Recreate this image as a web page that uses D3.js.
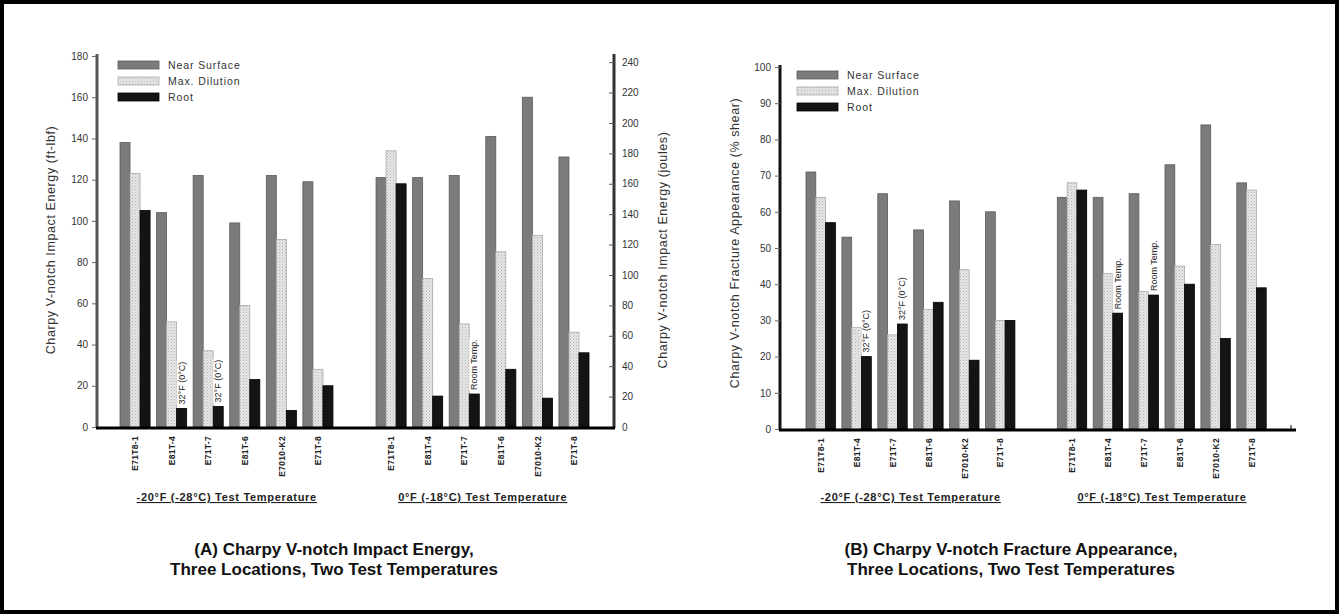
<!DOCTYPE html>
<html>
<head>
<meta charset="utf-8">
<script src="https://cdn.jsdelivr.net/npm/d3@7"></script>
<style>
  body { margin: 0; background: #fff; }
  svg { display: block; font-family: "Liberation Sans", Arial, sans-serif; }
  .tick text { fill: #333; }
</style>
</head>
<body>
<svg width="1339" height="614"></svg>
<script>
// categories
const electrodes = ["E71T8-1", "E81T-4", "E71T-7", "E81T-6", "E7010-K2", "E71T-8"];
const tempGroups = ["-20°F (-28°C) Test Temperature", "0°F (-18°C) Test Temperature"];
const seriesNames = ["Near Surface", "Max. Dilution", "Root"];

// (A) impact energy, ft-lbf  (first 6 = -20°F, last 6 = 0°F)
const energyNear = [138, 104, 122, 99, 122, 119, 121, 121, 122, 141, 160, 131];
const energyDilution = [123, 51, 37, 59, 91, 28, 134, 72, 50, 85, 93, 46];
const energyRoot = [105, 9, 10, 23, 8, 20, 118, 15, 16, 28, 14, 36];
const energyNotes = [
  { idx: 1, text: "32°F (0°C)" },
  { idx: 2, text: "32°F (0°C)" },
  { idx: 8, text: "Room Temp." }
];
const energyTicks = [0, 20, 40, 60, 80, 100, 120, 140, 160, 180];
const jouleTicks = [0, 20, 40, 60, 80, 100, 120, 140, 160, 180, 200, 220, 240];

// (B) fracture appearance, % shear
const shearNear = [71, 53, 65, 55, 63, 60, 64, 64, 65, 73, 84, 68];
const shearDilution = [64, 28, 26, 33, 44, 30, 68, 43, 38, 45, 51, 66];
const shearRoot = [57, 20, 29, 35, 19, 30, 66, 32, 37, 40, 25, 39];
const shearNotes = [
  { idx: 1, text: "32°F (0°C)" },
  { idx: 2, text: "32°F (0°C)" },
  { idx: 7, text: "Room Temp." },
  { idx: 8, text: "Room Temp." }
];
const shearTicks = [0, 10, 20, 30, 40, 50, 60, 70, 80, 90, 100];

const svg = d3.select("svg");

// outer frame
svg.append("rect")
  .attr("x", 2).attr("y", 2).attr("width", 1335).attr("height", 610)
  .attr("fill", "#fff").attr("stroke", "#000").attr("stroke-width", 4);

// hatch for Max. Dilution
const defs = svg.append("defs");
const pat = defs.append("pattern")
  .attr("id", "hatch").attr("width", 3).attr("height", 3)
  .attr("patternUnits", "userSpaceOnUse");
pat.append("rect").attr("width", 3).attr("height", 3).attr("fill", "#e6e6e6");
pat.append("rect").attr("width", 1).attr("height", 1).attr("fill", "#b4b4b4");
pat.append("rect").attr("x", 1.5).attr("y", 1.5).attr("width", 1).attr("height", 1).attr("fill", "#c8c8c8");

const fills = ["#7b7b7b", "url(#hatch)", "#141414"];
const strokes = ["#5a5a5a", "#aaaaaa", "#000"];

const slots = [];
electrodes.forEach((e, i) => slots.push("a" + i));
slots.push("gap");
electrodes.forEach((e, i) => slots.push("b" + i));
const slotOf = i => i < 6 ? "a" + i : "b" + (i - 6);

function drawPanel(p) {
  const g = svg.append("g");
  const y = d3.scaleLinear().domain(p.yDomain).range([p.y0, p.y1]);
  const x = d3.scaleBand().domain(slots).range(p.xRange).paddingInner(0);
  const inner = d3.scaleBand().domain(seriesNames).range([3, x.bandwidth() - 3.5]);

  const values = [p.near, p.dilution, p.root];
  const rows = [];
  values.forEach((arr, s) => arr.forEach((v, i) => rows.push({ s, i, v })));

  g.selectAll("rect.bar").data(rows).join("rect")
    .attr("class", "bar")
    .attr("x", d => x(slotOf(d.i)) + inner(seriesNames[d.s]))
    .attr("width", inner.bandwidth())
    .attr("y", d => y(d.v))
    .attr("height", d => y(0) - y(d.v))
    .attr("fill", d => fills[d.s])
    .attr("stroke", d => strokes[d.s])
    .attr("stroke-width", 0.8);

  // notes above root bars
  p.notes.forEach(n => {
    const cx = x(slotOf(n.idx)) + inner("Root") + inner.bandwidth() / 2;
    const top = y(values[2][n.idx]) - 4;
    const t = g.append("text")
      .attr("transform", `translate(${cx + 3},${top}) rotate(-90)`)
      .attr("font-size", 9).attr("fill", "#222")
      .text(n.text);
    const bb = t.node().getBBox();
    g.insert("rect", () => t.node())
      .attr("transform", `translate(${cx + 3},${top}) rotate(-90)`)
      .attr("x", bb.x - 1).attr("y", bb.y).attr("width", bb.width + 2).attr("height", bb.height)
      .attr("fill", "#fff");
  });

  // left axis
  const axL = g.append("g").attr("transform", `translate(${p.xAxis},0)`)
    .call(d3.axisLeft(y).tickValues(p.ticks).tickSize(5).tickPadding(4));
  axL.select(".domain").attr("stroke", p.leftAxisColor).attr("stroke-width", 3)
    .attr("d", `M0,${p.y0 + 1}V${p.y1 - 2}`);
  axL.selectAll(".tick line").attr("stroke", "#666");
  axL.selectAll(".tick text").attr("font-size", 10);

  // right axis (joules)
  if (p.rightDomain) {
    const yr = d3.scaleLinear().domain(p.rightDomain).range([p.y0, p.y1]);
    const axR = g.append("g").attr("transform", `translate(${p.xEnd},0)`)
      .call(d3.axisRight(yr).tickValues(p.rightTicks).tickSize(-5).tickPadding(8));
    axR.select(".domain").attr("stroke", "#333").attr("stroke-width", 3)
      .attr("d", `M0,${p.y0 + 1}V${p.y1 - 2}`);
    axR.selectAll(".tick line").attr("stroke", "#555");
    axR.selectAll(".tick text").attr("font-size", 10);
    g.append("text")
      .attr("transform", `translate(${p.xEnd + 53},${p.rightTitleY}) rotate(-90)`)
      .attr("text-anchor", "middle").attr("font-size", 12.5).attr("letter-spacing", 0.6)
      .attr("fill", "#333")
      .text(p.rightTitle);
  }

  // bottom axis
  g.append("line")
    .attr("x1", p.xAxis - 1).attr("x2", p.xEnd + 1)
    .attr("y1", y(0) + 1).attr("y2", y(0) + 1)
    .attr("stroke", "#000").attr("stroke-width", 3);
  if (!p.rightDomain) {
    g.append("line").attr("x1", p.xEnd - 4).attr("x2", p.xEnd - 4)
      .attr("y1", y(0) - 4).attr("y2", y(0)).attr("stroke", "#000");
  }

  // category labels
  const catRows = electrodes.concat(electrodes).map((e, i) => ({ e, i }));
  g.selectAll("text.cat").data(catRows).join("text")
    .attr("class", "cat")
    .attr("transform", d => `translate(${x(slotOf(d.i)) + x.bandwidth() / 2 + 3},${y(0) + 9}) rotate(-90)`)
    .attr("text-anchor", "end").attr("font-size", 8.5).attr("font-weight", "bold")
    .attr("letter-spacing", 0.3).attr("fill", "#222")
    .text(d => d.e);

  // group titles
  tempGroups.forEach((t, k) => {
    const a = x(k === 0 ? "a0" : "b0"), b = x(k === 0 ? "a5" : "b5") + x.bandwidth();
    g.append("text")
      .attr("x", (a + b) / 2).attr("y", 501)
      .attr("text-anchor", "middle").attr("font-size", 11).attr("font-weight", "bold")
      .attr("letter-spacing", 0.7)
      .attr("text-decoration", "underline").attr("fill", "#222")
      .text(t);
  });

  // left title
  g.append("text")
    .attr("transform", `translate(${p.titleX},${p.titleY}) rotate(-90)`)
    .attr("text-anchor", "middle").attr("font-size", 12.5).attr("letter-spacing", 0.6)
    .attr("fill", "#333")
    .text(p.leftTitle);

  // legend
  seriesNames.forEach((s, k) => {
    const ly = p.legendY + k * 16;
    g.append("rect").attr("x", p.legendX).attr("y", ly - 4).attr("width", 41).attr("height", 8)
      .attr("fill", fills[k]).attr("stroke", strokes[k]).attr("stroke-width", 0.8);
    g.append("text").attr("x", p.legendX + 50).attr("y", ly + 4)
      .attr("font-size", 10.5).attr("letter-spacing", 0.9)
      .attr("fill", "#333").text(s);
  });

  // caption
  p.caption.forEach((c, k) => {
    svg.append("text")
      .attr("x", p.captionX).attr("y", 555 + k * 20)
      .attr("text-anchor", "middle").attr("font-size", 17).attr("font-weight", "bold")
      .attr("fill", "#111").text(c);
  });
}

drawPanel({
  near: energyNear, dilution: energyDilution, root: energyRoot, notes: energyNotes,
  yDomain: [0, 180], y0: 427, y1: 56, ticks: energyTicks,
  rightDomain: [0, 180 * 1.3558], rightTicks: jouleTicks,
  xAxis: 97, xEnd: 614, xRange: [117, 592.5],
  leftAxisColor: "#555", titleX: 55, titleY: 240,
  leftTitle: "Charpy V-notch Impact Energy (ft-lbf)",
  rightTitle: "Charpy V-notch Impact Energy (joules)", rightTitleY: 250,
  legendX: 118, legendY: 65,
  caption: ["(A) Charpy V-notch Impact Energy,", "Three Locations, Two Test Temperatures"], captionX: 334
});

drawPanel({
  near: shearNear, dilution: shearDilution, root: shearRoot, notes: shearNotes,
  yDomain: [0, 100], y0: 429, y1: 67, ticks: shearTicks,
  xAxis: 780, xEnd: 1295, xRange: [803, 1269.7],
  leftAxisColor: "#111", titleX: 739, titleY: 243,
  leftTitle: "Charpy V-notch Fracture Appearance (% shear)",
  legendX: 797, legendY: 75,
  caption: ["(B) Charpy V-notch Fracture Appearance,", "Three Locations, Two Test Temperatures"], captionX: 1011
});
</script>
</body>
</html>
